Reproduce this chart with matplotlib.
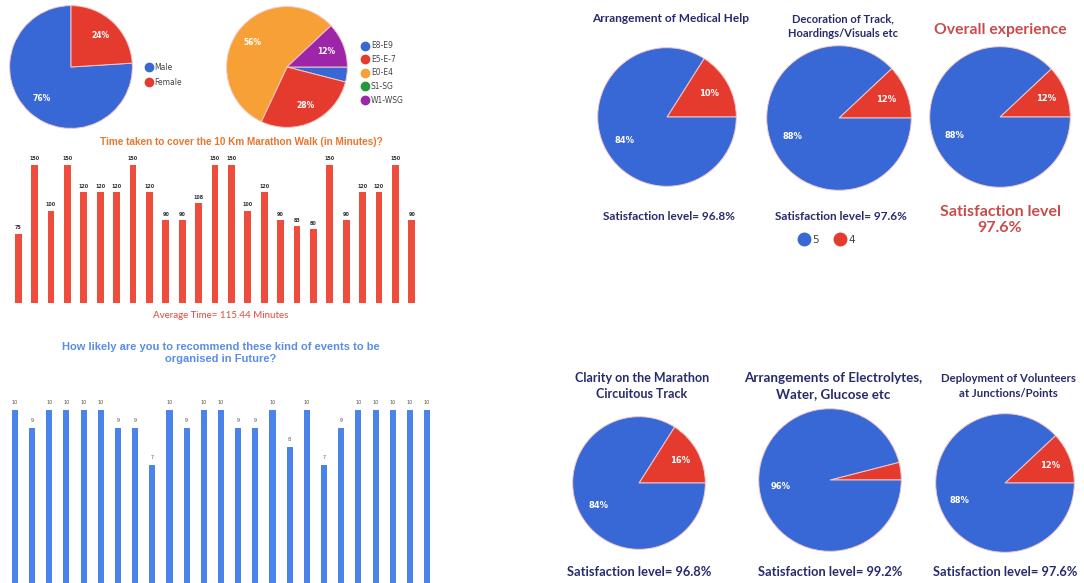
import numpy as np
import matplotlib.pyplot as plt
from matplotlib.lines import Line2D

W, H = 1084, 583

# data
gender_labels = ['Male', 'Female']
gender_share = [76, 24]
gender_text = ['76%', '24%']

level_labels = ['E8-E9', 'E5-E-7', 'E0-E4', 'S1-SG', 'W1-WSG']
level_share = [4, 28, 56, 0, 12]
level_text = ['', '28%', '56%', '', '12%']

time_taken = [75, 150, 100, 150, 120, 120, 120, 150, 120, 90, 90, 108, 150,
              150, 100, 120, 90, 83, 80, 150, 90, 120, 120, 150, 90]
recommend = [10, 9, 10, 10, 10, 10, 9, 9, 7, 10, 9, 10, 10, 9, 9, 10, 8, 10,
             7, 9, 10, 10, 10, 10, 10]

top_titles = ['Arrangement of Medical Help', 'Decoration of Track,\nHoardings/Visuals etc',
              'Overall experience']
top_share5 = [84, 88, 88]
top_share4 = [16, 12, 12]
top_text5 = ['84%', '88%', '88%']
top_text4 = ['10%', '12%', '12%']
top_level = [96.8, 97.6, 97.6]

bot_titles = ['Clarity on the Marathon\nCircuitous Track',
              'Arrangements of Electrolytes,\nWater, Glucose etc',
              'Deployment of Volunteers\nat Junctions/Points']
bot_share5 = [84, 96, 88]
bot_share4 = [16, 4, 12]
bot_text5 = ['84%', '96%', '88%']
bot_text4 = ['16%', '', '12%']
bot_level = [96.8, 99.2, 97.6]

BLUE = '#3867d6'
RED = '#e53b2f'
ORANGE = '#f7a035'
GREEN = '#23993b'
PURPLE = '#9c25a8'
NAVY = '#272b6c'

fig = plt.figure(figsize=(W / 100, H / 100), dpi=100)


def box(x0, y0, x1, y1):
    # pixel box (top-left origin) -> figure axes
    return fig.add_axes([x0 / W, 1 - y1 / H, (x1 - x0) / W, (y1 - y0) / H])


def pie_ax(cx, cy, r):
    return box(cx - r, cy - r, cx + r, cy + r)


def draw_pie(ax, vals, cols, txt, start, ccw, fs=6.5):
    wedges, texts = ax.pie(vals, colors=cols, labels=txt, labeldistance=0.7,
                           startangle=start, counterclock=ccw,
                           wedgeprops=dict(edgecolor='#f2c8c8', linewidth=0.7),
                           textprops=dict(color='white', fontsize=fs, fontweight='bold'))
    for t in texts:
        t.set_ha('center')
        t.set_va('center')
    ax.set_xlim(-1.01, 1.01)
    ax.set_ylim(-1.01, 1.01)
    ax.axis('off')


# gender pie
ax = pie_ax(71, 67, 62)
draw_pie(ax, gender_share, [BLUE, RED], gender_text, 90, True, fs=5.5)
hd = [Line2D([], [], marker='o', ls='', color=c, markersize=6) for c in [BLUE, RED]]
fig.legend(hd, gender_labels, loc='center left', bbox_to_anchor=(141 / W, 1 - 75 / H),
           frameon=False, fontsize=5.5, handletextpad=0.3, labelspacing=0.75,
           borderpad=0, handlelength=1.0, labelcolor='#444444')

# level pie
ax = pie_ax(287, 67, 61)
draw_pie(ax, level_share, [BLUE, RED, ORANGE, GREEN, PURPLE], level_text, 0, False, fs=5.5)
hd = [Line2D([], [], marker='o', ls='', color=c, markersize=6)
      for c in [BLUE, RED, ORANGE, GREEN, PURPLE]]
fig.legend(hd, level_labels, loc='center left', bbox_to_anchor=(357 / W, 1 - 73 / H),
           frameon=False, fontsize=5.5, handletextpad=0.3, labelspacing=0.6,
           borderpad=0, handlelength=1.0, labelcolor='#444444')

# time taken bars
fig.text(241 / W, 1 - 142 / H, 'Time taken to cover the 10 Km Marathon Walk (in Minutes)?',
         ha='center', va='center', fontsize=7.2, fontweight='bold', color='#e8762e',
         family='Liberation Sans')
ax = box(10, 150, 420, 303)
x = np.arange(len(time_taken))
ax.bar(x, time_taken, width=0.42, color='#ee4c3c')
for xi, v in zip(x, time_taken):
    ax.annotate(str(v), (xi, v), xytext=(0, 2.5), textcoords='offset points',
                ha='center', va='bottom', fontsize=3.5, color='#333333', fontweight='bold')
ax.set_xlim(-0.5, len(time_taken) - 0.5)
ax.set_ylim(0, 166)
ax.axis('off')
fig.text(221 / W, 1 - 316 / H, 'Average Time= 115.44 Minutes', ha='center', va='center',
         fontsize=7, color='#e0493c', family='Lato')

# recommend bars
fig.text(221 / W, 1 - 353 / H, 'How likely are you to recommend these kind of events to be\norganised in Future?',
         ha='center', va='center', fontsize=8, fontweight='bold', color='#5a8de8',
         family='Liberation Sans', linespacing=1.15)
ax = box(6.4, 395, 435.6, 593)
x = np.arange(len(recommend))
ax.bar(x, recommend, width=0.35, color='#4a84ea')
for xi, v in zip(x, recommend):
    ax.annotate(str(v), (xi, v), xytext=(0, 3.5), textcoords='offset points',
                ha='center', va='bottom', fontsize=3.5, color='#555555')
ax.set_xlim(-0.5, len(recommend) - 0.5)
ax.set_ylim(0, 198 / 18.3)
ax.axis('off')

# satisfaction pies, top row
top_pos = [(667, 117, 70), (839, 118, 73), (1000, 117, 71)]
top_title_y = [19, 26, 30]
top_title_fs = [8.6, 8.0]
for i, (cx, cy, r) in enumerate(top_pos):
    ax = pie_ax(cx, cy, r)
    draw_pie(ax, [top_share4[i], top_share5[i]], [RED, BLUE], [top_text4[i], top_text5[i]],
             0, True, fs=6)
    if i < 2:
        fig.text((cx + 4) / W, 1 - top_title_y[i] / H, top_titles[i], ha='center',
                 va='center', fontsize=top_title_fs[i], fontweight='bold', color=NAVY,
                 family='Lato', linespacing=1.4)
        fig.text((cx + 2) / W, 1 - 216 / H, f'Satisfaction level= {top_level[i]}%',
                 ha='center', va='center', fontsize=8.5, fontweight='bold', color=NAVY,
                 family='Lato')
    else:
        fig.text(cx / W, 1 - top_title_y[i] / H, top_titles[i], ha='center', va='center',
                 fontsize=11.3, fontweight='bold', color='#c94c4c', family='Lato')
        fig.text(cx / W, 1 - 220 / H, f'Satisfaction level\n{top_level[i]}%', ha='center',
                 va='center', fontsize=11.5, fontweight='bold', color='#c94c4c',
                 family='Lato', linespacing=1.15)

hd = [Line2D([], [], marker='o', ls='', color=c, markersize=9) for c in [BLUE, RED]]
fig.legend(hd, ['5', '4'], loc='center', bbox_to_anchor=(827 / W, 1 - 240 / H), ncol=2,
           frameon=False, fontsize=7.5, handletextpad=0.35, columnspacing=1.5,
           borderpad=0, handlelength=1.0, labelcolor='#444444')

# satisfaction pies, bottom row
bot_pos = [(639, 483, 67), (830, 480, 72), (1005, 483, 70)]
bot_title_fs = [9.0, 9.6, 8.2]
for i, (cx, cy, r) in enumerate(bot_pos):
    ax = pie_ax(cx, cy, r)
    draw_pie(ax, [bot_share4[i], bot_share5[i]], [RED, BLUE], [bot_text4[i], bot_text5[i]],
             0, True, fs=6)
    fig.text((cx + 3) / W, 1 - 386 / H, bot_titles[i], ha='center', va='center',
             fontsize=bot_title_fs[i], fontweight='bold', color=NAVY, family='Lato',
             linespacing=1.35)
    fig.text(cx / W, 1 - 572 / H, f'Satisfaction level= {bot_level[i]}%', ha='center',
             va='center', fontsize=9.3, fontweight='bold', color=NAVY, family='Lato')

fig.savefig('out.png', dpi=100, facecolor='white')
